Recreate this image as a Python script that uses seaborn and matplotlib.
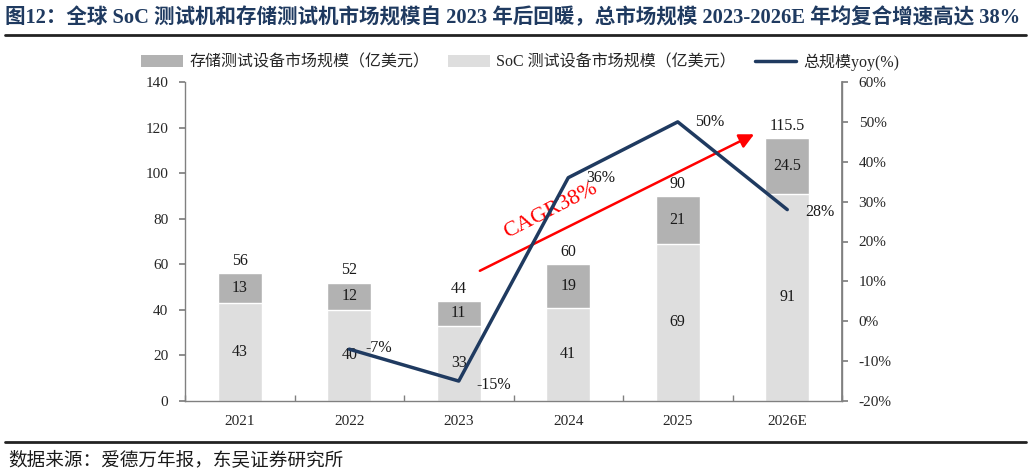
import numpy as np
import pandas as pd
import matplotlib
matplotlib.use("Agg")
import matplotlib.pyplot as plt
from matplotlib.lines import Line2D
from matplotlib.patches import Patch
import seaborn as sns

# ---- data ----
years = ["2021", "2022", "2023", "2024", "2025", "2026E"]
soc = [43, 40, 33, 41, 69, 91]
storage = [13, 12, 11, 19, 21, 24.5]
total = [56, 52, 44, 60, 90, 115.5]
yoy_years = ["2022", "2023", "2024", "2025", "2026E"]
yoy = [-7, -15, 36, 50, 28]
total_labels = ["56", "52", "44", "60", "90", "115.5"]
storage_labels = ["13", "12", "11", "19", "21", "24.5"]
soc_labels = ["43", "40", "33", "41", "69", "91"]
yoy_labels = ["-7%", "-15%", "36%", "50%", "28%"]
cagr_text = "CAGR38%"

sns.set_theme(style="white")
FAM = ["Liberation Serif", "Noto Sans CJK SC", "DejaVu Sans"]
plt.rcParams["font.family"] = FAM
plt.rcParams["axes.unicode_minus"] = False

C_STOR = "#B2B2B2"
C_SOC = "#DEDEDE"
C_LINE = "#1F3A60"
C_TITLE = "#1F3A60"

fig = plt.figure(figsize=(10.31, 4.75), dpi=100)
ax = fig.add_axes([185/1031, 74/475, (842-185)/1031, (401-82)/475])

df = pd.DataFrame({"year": years, "soc": soc, "storage": storage, "total": total})
sns.barplot(data=df, x="year", y="total", order=years, color=C_STOR, width=0.4,
            saturation=1, ax=ax, zorder=2)
sns.barplot(data=df, x="year", y="soc", order=years, color=C_SOC, width=0.4,
            saturation=1, ax=ax, zorder=2)

ax.set_ylim(0, 140)
ax.set_yticks(np.arange(0, 141, 20))
ax.set_xlim(-0.5, len(years) - 0.5)
ax.set_xlabel("")
ax.set_ylabel("")
ax.tick_params(axis="y", labelsize=11, length=4, direction="out", color="#808080", left=True, pad=8)
ax.tick_params(axis="x", labelsize=11, length=0, pad=10)
ax.set_xticks(np.arange(-0.5, len(years), 1), minor=True)
ax.tick_params(axis="x", which="minor", length=4, direction="in", color="#808080", bottom=True)
ax.spines["top"].set_visible(False)
for s in ["left", "bottom", "right"]:
    ax.spines[s].set_color("#808080")
    ax.spines[s].set_linewidth(1)

idx = {y: i for i, y in enumerate(years)}
for i in range(len(years)):
    ax.text(i, total[i] + 1.8, total_labels[i], ha="center", va="bottom", fontsize=11.5, color="#1a1a1a")
    ax.text(i, soc[i] + storage[i] / 2, storage_labels[i], ha="center", va="center", fontsize=11.5, color="#1a1a1a")
    ax.text(i, soc[i] / 2, soc_labels[i], ha="center", va="center", fontsize=11.5, color="#1a1a1a")

ax2 = ax.twinx()
xs = [idx[y] for y in yoy_years]
sns.lineplot(x=xs, y=yoy, ax=ax2, color=C_LINE, linewidth=2.5, zorder=3)
ax2.set_ylim(-20, 60)
ax2.set_yticks(np.arange(-20, 61, 10))
ax2.set_yticklabels([f"{v}%" for v in range(-20, 61, 10)])
ax2.tick_params(axis="y", labelsize=11, length=4, direction="out", color="#808080", right=True, pad=8)
ax2.set_xlim(-0.5, len(years) - 0.5)
for s in ["top", "left", "bottom"]:
    ax2.spines[s].set_visible(False)
ax2.spines["right"].set_color("#808080")

offs = [(0.15, 0.3), (0.16, -1.0), (0.16, 0.0), (0.16, 0.0), (0.16, -0.5)]
for x, v, lab, (dx, dy) in zip(xs, yoy, yoy_labels, offs):
    ax2.text(x + dx, v + dy, lab, ha="left", va="center", fontsize=11.5, color="#1a1a1a")

# CAGR arrow
ax.annotate("", xy=(4.72, 117.6), xytext=(2.17, 56.6),
            arrowprops=dict(arrowstyle="-|>", color="red", lw=1.8, mutation_scale=22),
            zorder=4)
ax.text(2.84, 83.5, cagr_text, color="red", fontsize=16, rotation=27,
        ha="center", va="center", rotation_mode="anchor", zorder=4)

# legend
handles = [Patch(facecolor=C_STOR, edgecolor="none"),
           Patch(facecolor=C_SOC, edgecolor="none"),
           Line2D([0], [0], color=C_LINE, lw=2.5)]
labels = ["存储测试设备市场规模（亿美元）", "SoC 测试设备市场规模（亿美元）", "总规模yoy(%)"]
fig.legend(handles, labels, loc="center", bbox_to_anchor=(520/1031, 1 - 62/475), ncol=3,
           frameon=False, fontsize=11.5, handlelength=2.6, handleheight=0.7,
           columnspacing=1.2, handletextpad=0.4)

# title
fig.text(5/1031, 1 - 18/475, "图12：全球 SoC 测试机和存储测试机市场规模自 2023 年后回暖，总市场规模 2023-2026E 年均复合增速高达 38%",
         ha="left", va="center", fontsize=14.8, fontweight="bold", color=C_TITLE)
fig.add_artist(Line2D([5/1031, 1026/1031], [1 - 35/475, 1 - 35/475], color="#222222", lw=2))
fig.add_artist(Line2D([5/1031, 1026/1031], [1 - 442/475, 1 - 442/475], color="#222222", lw=2))
fig.text(8/1031, 1 - 460/475, "数据来源：爱德万年报，东吴证券研究所", ha="left", va="center",
         fontsize=13.4, color="#1a1a1a")

fig.savefig("out.png", dpi=100)
